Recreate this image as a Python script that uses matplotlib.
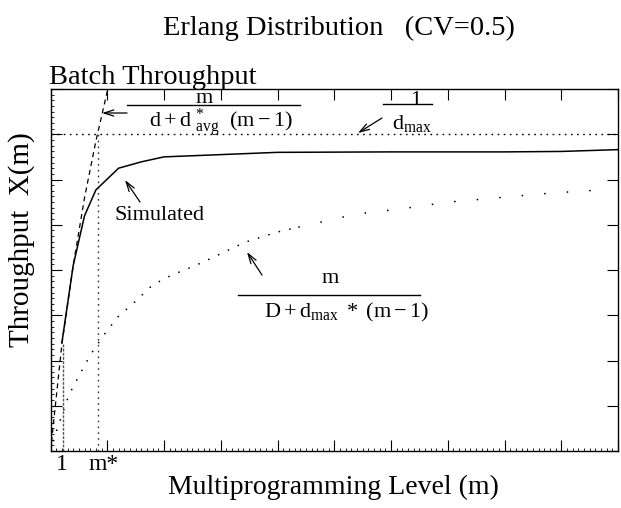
import matplotlib
matplotlib.use('Agg')
import matplotlib.pyplot as plt
from matplotlib.ticker import MultipleLocator
from matplotlib.lines import Line2D

plt.rcParams['font.family'] = ['Liberation Serif', 'DejaVu Serif']
plt.rcParams['mathtext.fontset'] = 'custom'
plt.rcParams['mathtext.rm'] = 'Liberation Serif'
plt.rcParams['mathtext.it'] = 'Liberation Serif:italic'

# simulated throughput
m_sim = [1, 2, 3, 4, 6, 8, 10, 20, 30, 40, 45, 50]
x_sim = [2.39, 4.1, 5.2, 5.77, 6.25, 6.39, 6.5, 6.6, 6.61, 6.61, 6.62, 6.66]

# bound m / (d + d_avg*(m-1))
m_avg = [0, 1, 2, 3, 4, 5.05]
x_avg = [0, 2.35, 4.1, 5.6, 6.85, 8.0]

# bound m / (D + d_max*(m-1))
m_max = [0, 0.31, 0.98, 1.62, 2.59, 3.55, 4.69, 5.92, 7.41, 9.0, 10.7, 12.0,
         13.4, 17.2, 20.0, 21.9, 27.0, 30.9, 35.0, 39.2, 43.1, 47.1, 49.3]
x_max = [0, 0.29, 0.77, 1.24, 1.70, 2.14, 2.56, 2.96, 3.29, 3.67, 3.89, 4.02,
         4.17, 4.62, 4.84, 4.95, 5.24, 5.35, 5.50, 5.59, 5.68, 5.75, 5.77]

inv_dmax = 7.0   # 1/d_max
m_one = 1.1
m_star = 4.15

W, H = 621, 508
fig = plt.figure(figsize=(W / 100, H / 100), dpi=100)
ax = fig.add_axes([50.5 / W, 1 - 451 / H, (618 - 50.5) / W, (451 - 89) / H])


def fp(x, y):
    return (x / W, 1 - y / H)


ax.plot(m_sim, x_sim, color='black', lw=1.1)
ax.plot(m_avg, x_avg, color='black', lw=0.9, dashes=(4, 3.2))
k = m_max.index(21.9)
ax.plot(m_max[:k + 1], x_max[:k + 1], color='black', lw=1.3,
        dashes=(0.01, 6.0), dash_capstyle='round')
ax.plot(m_max[k:], x_max[k:], color='black', lw=1.3,
        dashes=(0.01, 12.5), dash_capstyle='round')
ax.axhline(inv_dmax, color='black', lw=1.0, dashes=(1.2, 3.2))
ax.plot([m_one, m_one], [0, x_sim[0]], color='#555555', lw=1.0, dashes=(2, 1))
ax.plot([m_star, m_star], [0, inv_dmax], color='#333333', lw=1.0, dashes=(1.2, 3.0))

ax.set_xlim(0, 50)
ax.set_ylim(0, 8)
ax.xaxis.set_major_locator(MultipleLocator(5))
ax.xaxis.set_minor_locator(MultipleLocator(0.5))
ax.yaxis.set_major_locator(MultipleLocator(1))
ax.yaxis.set_minor_locator(MultipleLocator(0.125))
ax.tick_params(which='both', direction='in', labelbottom=False, labelleft=False)
ax.tick_params(which='major', length=8, width=0.8, top=True, right=True)
ax.tick_params(which='minor', length=2.5, width=0.6, top=False, right=False)
for s in ax.spines.values():
    s.set_linewidth(1.0)

# titles and labels
fig.text(*fp(339, 28), 'Erlang Distribution   (CV=0.5)', ha='center', va='center', fontsize=20.5)
fig.text(*fp(49, 84), 'Batch Throughput', ha='left', va='baseline', fontsize=20.5)
fig.text(*fp(333, 487), 'Multiprogramming Level (m)', ha='center', va='center', fontsize=20)
fig.text(*fp(22, 240), 'Throughput  X(m)', ha='center', va='center', rotation=90, fontsize=21)
fig.text(*fp(62, 465), '1', ha='center', va='center', fontsize=17)
fig.text(*fp(104, 465), 'm*', ha='center', va='center', fontsize=17)

arrow = dict(arrowstyle='->,head_length=0.7,head_width=0.22', lw=0.9,
             color='black', shrinkA=0, shrinkB=0)


def frac_line(x0, x1, y):
    fig.add_artist(Line2D([x0 / W, x1 / W], [1 - y / H, 1 - y / H], color='black', lw=1.0))


def point(x0, y0, x1, y1):
    ax.annotate('', xy=fp(x1, y1), xycoords='figure fraction',
                xytext=fp(x0, y0), textcoords='figure fraction', arrowprops=arrow)


# m / (d + d_avg*(m-1))
fig.text(*fp(204, 103), 'm', ha='center', va='baseline', fontsize=16)
frac_line(127, 300, 105)
fig.text(*fp(221, 127), r'$\mathrm{d + d\ {}_{avg}^{*}\ \ (m-1)}$',
         ha='center', va='baseline', fontsize=16)
point(127, 113, 102, 113)

# 1 / d_max
fig.text(*fp(416, 105), '1', ha='center', va='baseline', fontsize=16)
frac_line(383, 432, 104)
fig.text(*fp(412, 129), r'$\mathrm{d_{max}}$', ha='center', va='baseline', fontsize=16)
point(382, 118, 358, 133)

# m / (D + d_max*(m-1))
fig.text(*fp(330, 283), 'm', ha='center', va='baseline', fontsize=16)
frac_line(238, 420, 295)
fig.text(*fp(347, 317), r'$\mathrm{D + d_{max}\ *\ (m-1)}$',
         ha='center', va='baseline', fontsize=16)
point(262, 275, 247, 252)

# simulated
fig.text(*fp(115, 220), 'Simulated', ha='left', va='baseline', fontsize=16)
point(140, 202, 125, 180)

fig.savefig('out.png', dpi=100)
